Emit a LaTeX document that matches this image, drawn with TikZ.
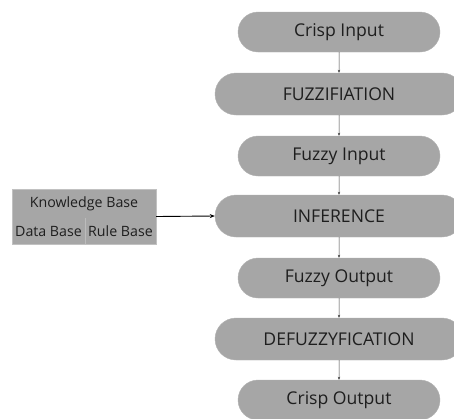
\documentclass[tikz,border=0pt]{standalone}
\usepackage{fontspec}
\setmainfont{Open Sans}
\usepackage{tikz}
\usetikzlibrary{arrows.meta, positioning, shapes.misc}
\definecolor{pillcol}{RGB}{166,166,166}
\definecolor{textcol}{RGB}{30,30,30}
\definecolor{linecol}{RGB}{60,60,60}

\begin{document}
\begin{tikzpicture}[x=1pt, y=-1pt, font=\fontsize{17.6}{20}\selectfont, text=textcol,
    pill/.style={rounded rectangle, fill=pillcol, draw=pillcol!85!white,
                 minimum width=202pt, minimum height=40pt, inner sep=0pt},
    widepill/.style={pill, minimum width=248pt, minimum height=42pt},
    flow/.style={draw=linecol, line width=0.5pt, -{Stealth[length=3pt, width=2.5pt]}}]
  \useasboundingbox (0,0) rectangle (454,418);

  \node[pill]     (cin)  at (339,32)  {Crisp Input};
  \node[widepill] (fuz)  at (339,94)  {FUZZIFIATION};
  \node[pill]     (fin)  at (339,156) {Fuzzy Input};
  \node[widepill] (inf)  at (339,216) {INFERENCE};
  \node[pill]     (fout) at (339,278) {Fuzzy Output};
  \node[widepill] (defz) at (339,339) {DEFUZZYFICATION};
  \node[pill]     (cout) at (339,400) {Crisp Output};

  \draw[flow] (cin)  -- (fuz);
  \draw[flow] (fuz)  -- (fin);
  \draw[flow] (fin)  -- (inf);
  \draw[flow] (inf)  -- (fout);
  \draw[flow] (fout) -- (defz);
  \draw[flow] (defz) -- (cout);

  % knowledge base block
  \node[fill=pillcol, draw=pillcol!70!white, minimum width=144pt,
        minimum height=55pt, inner sep=0pt] (kb) at (84,216.5) {};
  \begin{scope}[font=\fontsize{14.2}{16}\selectfont]
    \node (kbt)  at (84,204)  {Knowledge Base};
    \node (dbase) at (48.5,231) {Data Base};
    \node (rbase) at (120.5,231) {Rule Base};
  \end{scope}
  \draw[draw=pillcol!75!white, line width=0.4pt] (kb.south) ++(1,0) coordinate (dv1)
    -- ++(0,-26) coordinate (dv2);
  \draw[line width=0.9pt, -{Stealth[length=5pt, width=4pt]}] (kb.east) -- (inf.west);
\end{tikzpicture}
\end{document}
